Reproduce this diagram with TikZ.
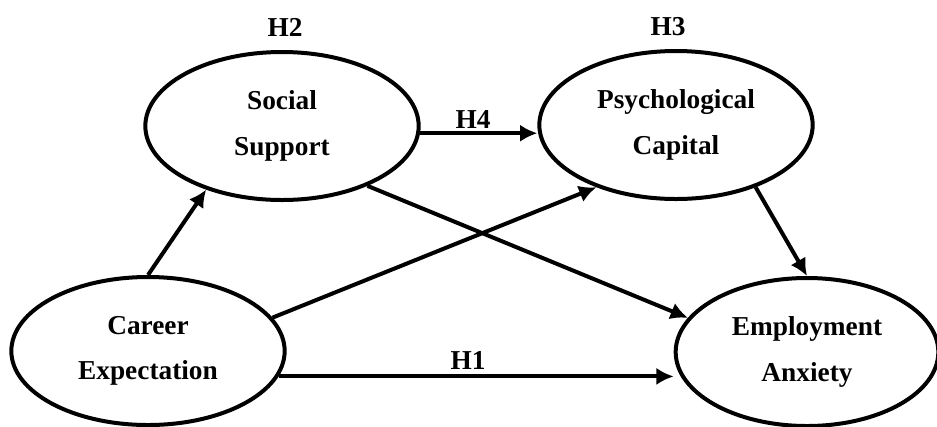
\documentclass[tikz,border=0pt]{standalone}
\usepackage{fontspec}
\setmainfont{Liberation Serif}
\usetikzlibrary{arrows.meta,shapes.geometric}

\begin{document}
\begin{tikzpicture}[x=0.75pt,y=-0.75pt]
	% \usetikzlibrary{arrows.meta,shapes.geometric}
	\tikzstyle{latent} = [ellipse, draw, line width=3pt, minimum width=205pt, minimum height=111pt, inner sep=0pt, align=center, font=\fontsize{20.5}{34}\selectfont\bfseries]
	\tikzstyle{hyp} = [draw=none, inner sep=0pt, font=\fontsize{20.5}{24}\selectfont\bfseries]
	\tikzstyle{arrow} = [draw, line width=3pt, -{Latex[length=13pt,width=13pt]}]
	\useasboundingbox (0,0) rectangle (937,426);

	\node [latent] (career) at (148,351) {Career\\Expectation};
	\node [latent] (social) at (282,126) {Social\\Support};
	\node [latent] (psycap) at (676,125) {Psychological\\Capital};
	\node [latent, minimum width=197pt] (anxiety) at (807,352) {Employment\\Anxiety};

	\node [hyp] (h2) at (285,27) {H2};
	\node [hyp] (h3) at (668,27) {H3};
	\node [hyp] (h4) at (473,119) {H4};
	\node [hyp] (h1) at (468,360) {H1};

	\coordinate (h4start) at (social.-3);
	\coordinate (h1start) at (career.-11);

	\path[arrow] (career.north) -- (social.220);
	\path[arrow] (career.15) -- (psycap.218);
	\path[arrow] (h4start) -- (h4start -| psycap.west);
	\path[arrow] (social.-35) -- (anxiety.164);
	\path[arrow] (psycap.-38) -- (anxiety.north);
	\path[arrow] (h1start) -- (h1start -| anxiety.west);
\end{tikzpicture}
\end{document}
